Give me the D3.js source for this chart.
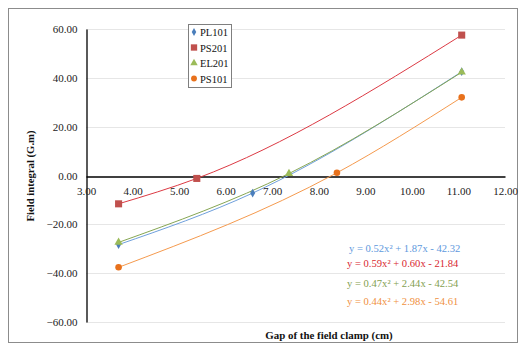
<!DOCTYPE html>
<html>
<head>
<meta charset="utf-8">
<script src="https://cdn.jsdelivr.net/npm/d3@7"></script>
<style>
  body { margin: 0; background: #fff; }
</style>
</head>
<body>
<div id="chart"></div>
<script>
// data
var seriesNames = ["PL101", "PS201", "EL201", "PS101"];
var gapPL101 = [3.70, 6.58, 11.07];
var fieldPL101 = [-28.3, -7.2, 42.5];
var gapPS201 = [3.70, 5.38, 11.07];
var fieldPS201 = [-11.6, -1.2, 57.5];
var gapEL201 = [3.70, 7.36, 11.07];
var fieldEL201 = [-27.4, 0.8, 42.3];
var gapPS101 = [3.70, 8.39, 11.07];
var fieldPS101 = [-37.6, 1.1, 32.0];
var equations = [
  "y = 0.52x\u00b2 + 1.87x - 42.32",
  "y = 0.59x\u00b2 + 0.60x - 21.84",
  "y = 0.47x\u00b2 + 2.44x - 42.54",
  "y = 0.44x\u00b2 + 2.98x - 54.61"
];
var xTicks = [3, 4, 5, 6, 7, 8, 9, 10, 11, 12];
var yTicks = [-60, -40, -20, 0, 20, 40, 60];

var markerColors = ["#4a7ebb", "#c0504d", "#9bbb59", "#e8711c"];
var lineColors = ["#6fa0dc", "#dc3a44", "#86a653", "#f59a4e"];
var textColors = ["#5e98dd", "#d8262f", "#83a04f", "#f0903e"];
var symbols = [d3.symbolDiamond, d3.symbolSquare, d3.symbolTriangle, d3.symbolCircle];
var symSizes = [22, 50, 30, 34];

var W = 525, H = 349;
var fontFam = "'Liberation Serif', 'Times New Roman', serif";

var x = d3.scaleLinear().domain([3, 12]).range([86, 505]);
var y = d3.scaleLinear().domain([-60, 60]).range([322, 29]);

var svg = d3.select("#chart").append("svg")
  .attr("width", W)
  .attr("height", H)
  .attr("font-family", fontFam);

// outer chart border
svg.append("rect")
  .attr("x", 8.5).attr("y", 8.5)
  .attr("width", 509).attr("height", 334)
  .attr("fill", "#fff")
  .attr("stroke", "#8c8c8c")
  .attr("stroke-width", 1);

// gridlines
svg.append("g")
  .selectAll("line")
  .data(yTicks.filter(function(d) { return d !== 0; }))
  .enter().append("line")
  .attr("x1", x(3)).attr("x2", x(12))
  .attr("y1", function(d) { return Math.round(y(d)) + 0.5; })
  .attr("y2", function(d) { return Math.round(y(d)) + 0.5; })
  .attr("stroke", "#e6e6e6")
  .attr("stroke-width", 1.2);

// y axis
var yAxis = svg.append("g")
  .attr("transform", "translate(" + (x(3) + 0.5) + ",0)")
  .call(d3.axisLeft(y).tickValues(yTicks).tickSize(0).tickPadding(9)
    .tickFormat(d3.format(".2f")));
yAxis.attr("font-family", fontFam);
yAxis.select(".domain").attr("stroke", "#000").attr("stroke-width", 1.3);
yAxis.selectAll("text")
  .style("font-family", fontFam)
  .style("font-size", "11px")
  .attr("fill", "#222");

// x axis on the zero line
var xAxis = svg.append("g")
  .attr("transform", "translate(0," + (Math.round(y(0)) + 0.5) + ")")
  .call(d3.axisBottom(x).tickValues(xTicks).tickSize(0).tickPadding(11)
    .tickFormat(d3.format(".2f")));
xAxis.attr("font-family", fontFam);
xAxis.select(".domain").attr("stroke", "#000").attr("stroke-width", 1.3);
xAxis.selectAll("text")
  .style("font-family", fontFam)
  .style("font-size", "11px")
  .attr("fill", "#222");

var allSeries = [
  {name: seriesNames[0], xs: gapPL101, ys: fieldPL101},
  {name: seriesNames[1], xs: gapPS201, ys: fieldPS201},
  {name: seriesNames[2], xs: gapEL201, ys: fieldEL201},
  {name: seriesNames[3], xs: gapPS101, ys: fieldPS101}
];

// monotone cubic through three points follows the quadratic trend closely
var line = d3.line()
  .curve(d3.curveMonotoneX)
  .x(function(d) { return x(d[0]); })
  .y(function(d) { return y(d[1]); });

// trend lines
allSeries.forEach(function(s, i) {
  var pts = s.xs.map(function(v, j) { return [v, s.ys[j]]; });
  svg.append("path")
    .attr("d", line(pts))
    .attr("fill", "none")
    .attr("stroke", lineColors[i])
    .attr("stroke-width", 1);
});

// markers
allSeries.forEach(function(s, i) {
  svg.append("g")
    .selectAll("path")
    .data(s.xs.map(function(v, j) { return [v, s.ys[j]]; }))
    .enter().append("path")
    .attr("transform", function(d) { return "translate(" + x(d[0]) + "," + y(d[1]) + ")"; })
    .attr("d", d3.symbol().type(symbols[i]).size(symSizes[i]))
    .attr("fill", markerColors[i]);
});

// legend
var legend = svg.append("g").attr("transform", "translate(188,24)");
legend.append("rect")
  .attr("x", 0.5).attr("y", 0.5)
  .attr("width", 43).attr("height", 63)
  .attr("fill", "#fff")
  .attr("stroke", "#7f7f7f");
seriesNames.forEach(function(n, i) {
  legend.append("path")
    .attr("transform", "translate(6," + (8 + i * 15.5) + ")")
    .attr("d", d3.symbol().type(symbols[i]).size(symSizes[i] * 0.8))
    .attr("fill", markerColors[i]);
  legend.append("text")
    .attr("x", 12)
    .attr("y", 12 + i * 15.5)
    .style("font-family", fontFam)
    .style("font-size", "10.5px")
    .attr("fill", "#111")
    .text(n);
});

// trendline equations
var eqX = [349, 347, 347, 347];
var eqY = [251.5, 267, 287, 304.5];
equations.forEach(function(e, i) {
  svg.append("text")
    .attr("x", eqX[i])
    .attr("y", eqY[i])
    .style("font-family", fontFam)
    .style("font-size", "10.6px")
    .attr("fill", textColors[i])
    .text(e);
});

// axis titles
svg.append("text")
  .attr("x", 329)
  .attr("y", 339)
  .attr("text-anchor", "middle")
  .style("font-family", fontFam)
  .style("font-size", "10.9px")
  .style("font-weight", "bold")
  .attr("fill", "#111")
  .text("Gap of the field clamp (cm)");

svg.append("text")
  .attr("transform", "translate(34,176) rotate(-90)")
  .attr("text-anchor", "middle")
  .style("font-family", fontFam)
  .style("font-size", "10.7px")
  .style("font-weight", "bold")
  .attr("fill", "#111")
  .text("Field integral (G.m)");
</script>
</body>
</html>
